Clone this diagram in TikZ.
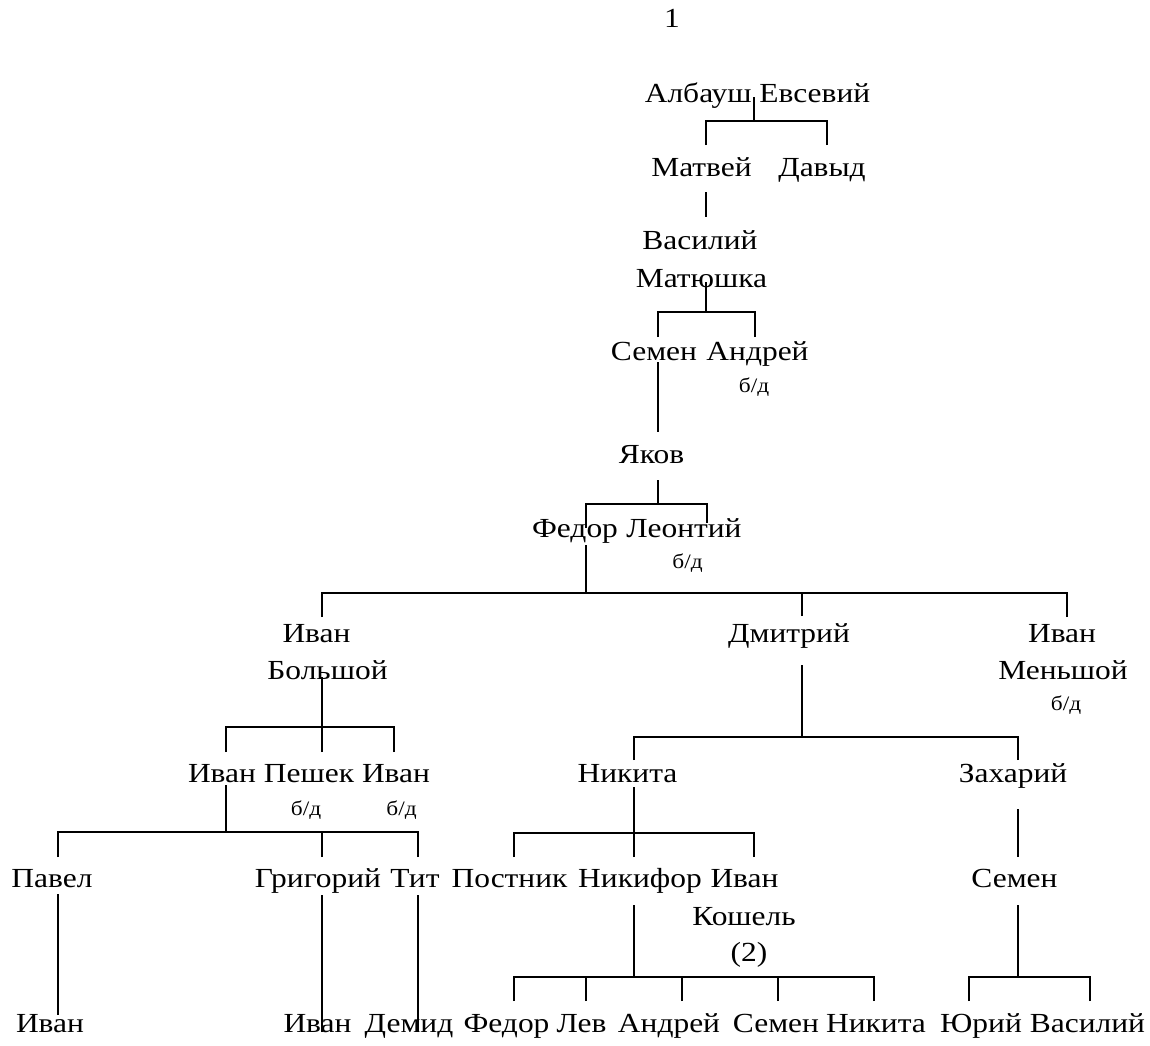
\documentclass[tikz,border=0pt]{standalone}
\usepackage{fontspec}
\setmainfont{Liberation Serif}[FakeStretch=1.14]
\usetikzlibrary{calc}

\tikzset{
  person/.style={anchor=base,inner sep=0pt,font=\fontsize{27.6}{33}\selectfont},
  nb/.style={person,font=\fontsize{20.5}{24}\selectfont},
  tie/.style={line width=1.8pt,color=black}
}

\begin{document}
\begin{tikzpicture}[x=1pt,y=1pt]
\useasboundingbox (0,0) rectangle (1150,-1045);

\node[person] (num) at (672,-27) {1};

\node[person] (albaush) at (757.5,-102) {Албауш Евсевий};
\node[person] (matvey) at (701.5,-176) {Матвей};
\node[person] (davyd) at (822,-176) {Давыд};
\node[person] (vasiliy) at (700,-249) {Василий};
\node[person] (matyushka) at (701.5,-287) {Матюшка};
\node[person] (semen) at (654,-360) {Семен};
\node[person] (andrey) at (757.5,-360) {Андрей};
\node[nb] (andreybd) at (754,-392) {б/д};
\node[person] (yakov) at (651.5,-463) {Яков};
\node[person] (fedor) at (575,-537) {Федор};
\node[person] (leontiy) at (684,-537) {Леонтий};
\node[nb] (leontiybd) at (687.5,-568) {б/д};

\node[person] (ivanB) at (316.5,-642) {Иван};
\node[person] (bolshoy) at (327.5,-679) {Большой};
\node[person] (dmitriy) at (789,-642) {Дмитрий};
\node[person] (ivanM) at (1062,-642) {Иван};
\node[person] (menshoy) at (1063,-679) {Меньшой};
\node[nb] (menshoybd) at (1066,-710) {б/д};

\node[person] (ivan1) at (222,-782) {Иван};
\node[person] (peshek) at (309,-782) {Пешек};
\node[nb] (peshekbd) at (306,-815) {б/д};
\node[person] (ivan3) at (396,-782) {Иван};
\node[nb] (ivan3bd) at (401.5,-815) {б/д};
\node[person] (nikita) at (627.5,-782) {Никита};
\node[person] (zahariy) at (1013,-782) {Захарий};

\node[person] (pavel) at (52,-887) {Павел};
\node[person] (grigoriy) at (318,-887) {Григорий};
\node[person] (tit) at (415,-887) {Тит};
\node[person] (postnik) at (509.5,-887) {Постник};
\node[person] (nikifor) at (640,-887) {Никифор};
\node[person] (ivanK) at (744.5,-887) {Иван};
\node[person] (koshel) at (744,-925) {Кошель};
\node[person] (koshelnum) at (749,-961) {(2)};
\node[person] (semen2) at (1014.5,-887) {Семен};

\node[person] (ivanP) at (50,-1032) {Иван};
\node[person] (ivanG) at (317.5,-1032) {Иван};
\node[person] (demid) at (409,-1032) {Демид};
\node[person] (fedor2) at (506.5,-1032) {Федор};
\node[person] (lev) at (581.5,-1032) {Лев};
\node[person] (andrey2) at (669,-1032) {Андрей};
\node[person] (semen3) at (776,-1032) {Семен};
\node[person] (nikita2) at (876,-1032) {Никита};
\node[person] (yuriy) at (981,-1032) {Юрий};
\node[person] (vasiliy2) at (1087.5,-1032) {Василий};

\coordinate (j1) at (754,-121);
\coordinate (j3) at (706,-312);
\coordinate (j5) at (658,-504);
\coordinate (j6) at (586,-593);
\coordinate (j7) at (322,-727);
\coordinate (j8) at (802,-737);
\coordinate (j9) at (226,-832);
\coordinate (j10) at (634,-833);
\coordinate (j15) at (634,-977);
\coordinate (j16) at (1018,-977);

\draw[tie] ([shift={(-3.5,5)}]albaush.base) -- (j1)
  ([shift={(4.5,31)}]matvey.base) |- (j1) ([shift={(5,31)}]davyd.base) |- (j1);
\draw[tie] ([shift={(4.5,-16)}]matvey.base) -- ([shift={(6,32)}]vasiliy.base);
\draw[tie] ([shift={(4.5,5)}]matyushka.base) -- (j3)
  ([shift={(4,23)}]semen.base) |- (j3) ([shift={(-2.5,23)}]andrey.base) |- (j3);
\draw[tie] ([shift={(4,-2)}]semen.base) -- ([shift={(6.5,31)}]yakov.base);
\draw[tie] ([shift={(6.5,-17)}]yakov.base) -- (j5)
  ([shift={(11,9)}]fedor.base) |- (j5) ([shift={(23,14)}]leontiy.base) |- (j5);
\draw[tie] ([shift={(11,-8)}]fedor.base) -- (j6)
  ([shift={(5.5,25)}]ivanB.base) |- (j6) ([shift={(13,26)}]dmitriy.base) |- (j6)
  ([shift={(5,25)}]ivanM.base) |- (j6);
\draw[tie] ([shift={(-5.5,2)}]bolshoy.base) -- (j7)
  ([shift={(4,30)}]ivan1.base) |- (j7) ([shift={(13,30)}]peshek.base) |- (j7)
  ([shift={(-2,30)}]ivan3.base) |- (j7);
\draw[tie] ([shift={(13,-23)}]dmitriy.base) -- (j8)
  ([shift={(6.5,22)}]nikita.base) |- (j8) ([shift={(5,22)}]zahariy.base) |- (j8);
\draw[tie] ([shift={(4,-3)}]ivan1.base) -- (j9)
  ([shift={(6,30)}]pavel.base) |- (j9) ([shift={(4,30)}]grigoriy.base) |- (j9)
  ([shift={(3,30)}]tit.base) |- (j9);
\draw[tie] ([shift={(6.5,-5)}]nikita.base) -- (j10)
  ([shift={(4.5,30)}]postnik.base) |- (j10) ([shift={(-6,30)}]nikifor.base) |- (j10)
  ([shift={(9.5,30)}]ivanK.base) |- (j10);
\draw[tie] ([shift={(5,-27)}]zahariy.base) -- ([shift={(3.5,30)}]semen2.base);
\draw[tie] ([shift={(6,-7)}]pavel.base) -- ([shift={(8,17)}]ivanP.base);
\draw[tie] ([shift={(4,-8)}]grigoriy.base) -- ([shift={(4.5,0)}]ivanG.base);
\draw[tie] ([shift={(3,-8)}]tit.base) -- ([shift={(9,0)}]demid.base);
\draw[tie] ([shift={(-6,-18)}]nikifor.base) -- (j15)
  ([shift={(7.5,31)}]fedor2.base) |- (j15) ([shift={(4.5,31)}]lev.base) |- (j15)
  ([shift={(13,31)}]andrey2.base) |- (j15) ([shift={(2,31)}]semen3.base) |- (j15)
  ([shift={(-2,31)}]nikita2.base) |- (j15);
\draw[tie] ([shift={(3.5,-18)}]semen2.base) -- (j16)
  ([shift={(-12,31)}]yuriy.base) |- (j16) ([shift={(2.5,31)}]vasiliy2.base) |- (j16);

\end{tikzpicture}
\end{document}
